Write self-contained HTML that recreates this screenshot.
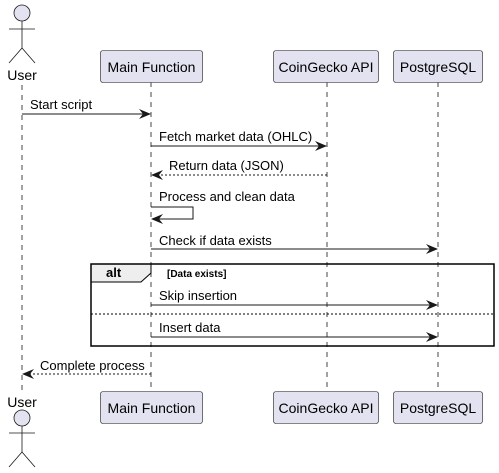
<!DOCTYPE html>
<html><head><meta charset="utf-8"><style>
html,body{margin:0;padding:0;background:#fff;}
svg{display:block;font-family:"Liberation Sans",Arial,sans-serif;}
</style></head><body>
<svg width="499" height="473" viewBox="0 0 499 473" xmlns="http://www.w3.org/2000/svg">
<defs>
<marker id="a" viewBox="0 0 12 10" refX="11" refY="5" markerWidth="12" markerHeight="10" markerUnits="userSpaceOnUse" orient="auto">
<path d="M0,0 L12,5 L0,10 L4,5 Z" fill="#181818"/></marker>
</defs>
<g stroke="#181818" stroke-width="0.8" stroke-dasharray="5,5">
<line x1="22" y1="85" x2="22" y2="390"/>
<line x1="151" y1="82" x2="151" y2="391"/>
<line x1="327" y1="82" x2="327" y2="391"/>
<line x1="438" y1="82" x2="438" y2="391"/>
</g>
<!-- top actor -->
<g stroke="#181818" stroke-width="0.8" fill="none">
<circle cx="22" cy="13" r="8" fill="#E2E2F0"/>
<line x1="22" y1="21" x2="22" y2="48"/><line x1="9" y1="29" x2="35" y2="29"/>
<line x1="22" y1="48" x2="9" y2="63"/><line x1="22" y1="48" x2="35" y2="63"/>
<circle cx="22" cy="418" r="8" fill="#E2E2F0"/>
<line x1="22" y1="426" x2="22" y2="452"/><line x1="9" y1="433" x2="35" y2="433"/>
<line x1="22" y1="452" x2="9" y2="467"/><line x1="22" y1="452" x2="35" y2="467"/>
</g>
<g font-size="14" fill="#000" text-anchor="middle">
<text x="22" y="80">User</text><text x="22" y="407">User</text>
</g>
<g fill="#E2E2F0" stroke="#181818" stroke-width="0.6">
<rect x="100.5" y="50.5" width="102" height="32" rx="2.5"/>
<rect x="273.5" y="50.5" width="105" height="32" rx="2.5"/>
<rect x="393.5" y="50.5" width="89" height="32" rx="2.5"/>
<rect x="100.5" y="391.5" width="102" height="32" rx="2.5"/>
<rect x="273.5" y="391.5" width="105" height="32" rx="2.5"/>
<rect x="393.5" y="391.5" width="89" height="32" rx="2.5"/>
</g>
<g font-size="14" fill="#000" text-anchor="middle">
<text x="151.5" y="72">Main Function</text>
<text x="326" y="72">CoinGecko API</text>
<text x="438" y="72">PostgreSQL</text>
<text x="151.5" y="413">Main Function</text>
<text x="326" y="413">CoinGecko API</text>
<text x="438" y="413">PostgreSQL</text>
</g>
<!-- messages -->
<g stroke="#181818" stroke-width="1" fill="none">
<line x1="22" y1="114" x2="150" y2="114" marker-end="url(#a)"/>
<line x1="151" y1="146" x2="326" y2="146" marker-end="url(#a)"/>
<line x1="327" y1="175" x2="152" y2="175" stroke-dasharray="2,2" marker-end="url(#a)"/>
<polyline points="151,207 193,207 193,219 152,219" marker-end="url(#a)"/>
<line x1="151" y1="249" x2="437" y2="249" marker-end="url(#a)"/>
<line x1="151" y1="305" x2="437" y2="305" marker-end="url(#a)"/>
<line x1="151" y1="337" x2="437" y2="337" marker-end="url(#a)"/>
<line x1="151" y1="374" x2="23" y2="374" stroke-dasharray="2,2" marker-end="url(#a)"/>
</g>
<g font-size="13" fill="#000">
<text x="30" y="109">Start script</text>
<text x="159" y="141">Fetch market data (OHLC)</text>
<text x="169" y="170">Return data (JSON)</text>
<text x="159" y="201">Process and clean data</text>
<text x="159" y="245">Check if data exists</text>
<text x="159" y="300">Skip insertion</text>
<text x="159" y="332">Insert data</text>
<text x="40" y="370">Complete process</text>
</g>
<!-- alt frame -->
<path d="M91,264 L151,264 L151,273 L141,282 L91,282 Z" fill="#EEEEEE" stroke="#000" stroke-width="1"/>
<rect x="91" y="264" width="403" height="82" fill="none" stroke="#000" stroke-width="1.5"/>
<line x1="91" y1="314" x2="494" y2="314" stroke="#000" stroke-width="1" stroke-dasharray="2,2"/>
<text x="106" y="277" font-size="13" font-weight="bold">alt</text>
<text x="167" y="277" font-size="10" font-weight="bold">[Data exists]</text>
</svg>
</body></html>
